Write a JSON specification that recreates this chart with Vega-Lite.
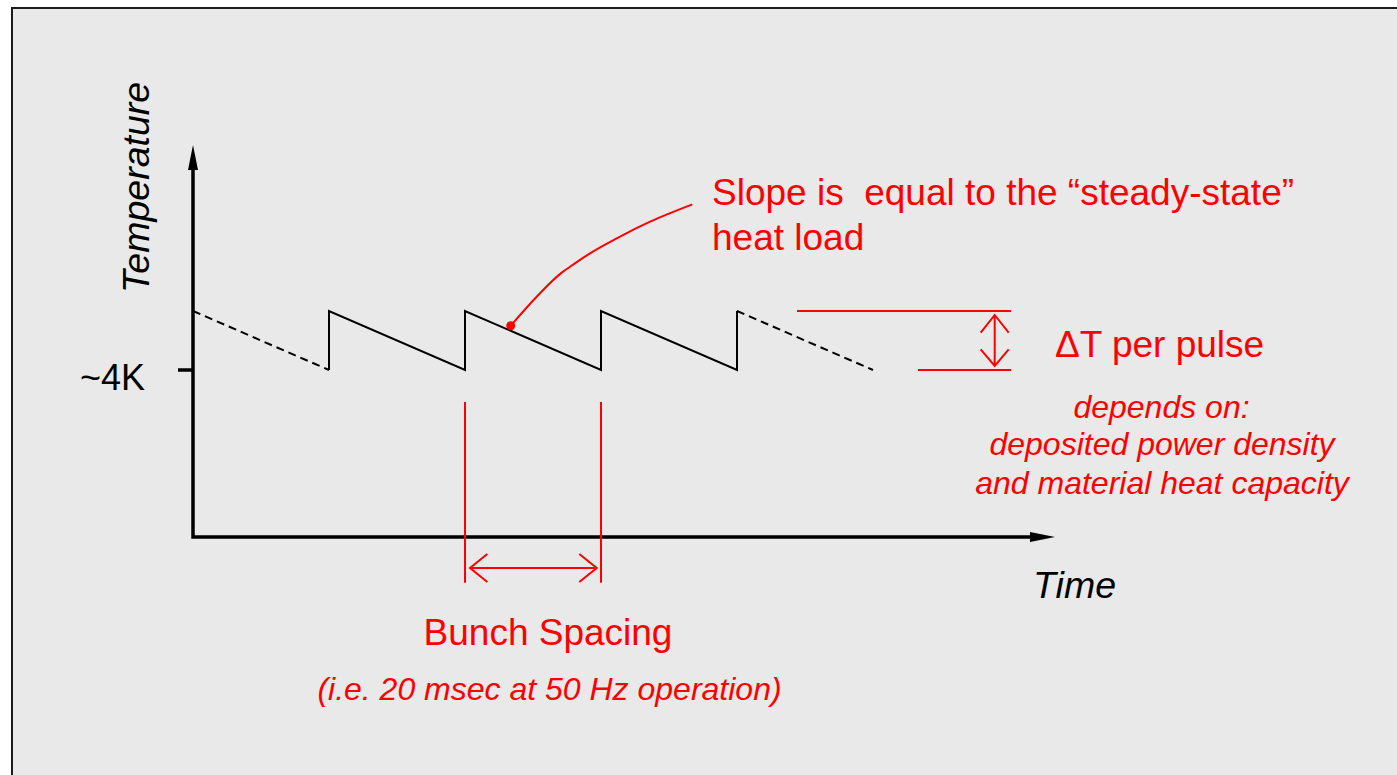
{
  "$schema": "https://vega.github.io/schema/vega-lite/v6.json",
  "width": 1397,
  "height": 775,
  "autosize": {"type": "fit", "contains": "padding"},
  "padding": 0,
  "background": "#ffffff",
  "config": {"view": {"stroke": null}, "font": "Liberation Sans"},
  "datasets": {
    "frame": [{"t": -26.618, "t2": 177.058824, "T": 7.0678, "T2": 0.567797}],
    "border": [
      {"t": -26.7647, "t2": 177.058824, "T": 7.0763, "T2": 7.0593},
      {"t": -26.7647, "t2": -26.4706, "T": 7.0763, "T2": 0.567797}
    ],
    "axes": [
      {"i": 0, "t": 123.088, "T": 2.5847},
      {"i": 1, "t": 0, "T": 2.5847},
      {"i": 2, "t": 0, "T": 5.6949}
    ],
    "tick": [{"t": -2.2059, "t2": 0, "T": 4.0}],
    "arrowUp": [{"t": 0, "T": 5.8008}],
    "arrowRight": [{"t": 124.926, "T": 2.5847}],
    "sawtooth": [
      {"i": 0, "t": 20, "T": 4.0},
      {"i": 1, "t": 20, "T": 4.5},
      {"i": 2, "t": 40, "T": 4.0},
      {"i": 3, "t": 40, "T": 4.5},
      {"i": 4, "t": 60, "T": 4.0},
      {"i": 5, "t": 60, "T": 4.5},
      {"i": 6, "t": 80, "T": 4.0},
      {"i": 7, "t": 80, "T": 4.5}
    ],
    "dashed": [
      {"id": "before", "i": 0, "t": 0, "T": 4.5},
      {"id": "before", "i": 1, "t": 20, "T": 4.0},
      {"id": "after", "i": 0, "t": 80, "T": 4.5},
      {"id": "after", "i": 1, "t": 100, "T": 4.0}
    ],
    "redPaths": [
      {"id": "dtTop", "i": 0, "t": 88.824, "T": 4.5},
      {"id": "dtTop", "i": 1, "t": 120.294, "T": 4.5},
      {"id": "dtBot", "i": 0, "t": 106.618, "T": 4.0},
      {"id": "dtBot", "i": 1, "t": 120.294, "T": 4.0},
      {"id": "dtShaft", "i": 0, "t": 117.897, "T": 4.4661},
      {"id": "dtShaft", "i": 1, "t": 117.897, "T": 4.0339},
      {"id": "dtHeadTop", "i": 0, "t": 115.838, "T": 4.3161},
      {"id": "dtHeadTop", "i": 1, "t": 117.897, "T": 4.4661},
      {"id": "dtHeadTop", "i": 2, "t": 119.956, "T": 4.3161},
      {"id": "dtHeadBot", "i": 0, "t": 115.838, "T": 4.1754},
      {"id": "dtHeadBot", "i": 1, "t": 117.897, "T": 4.0339},
      {"id": "dtHeadBot", "i": 2, "t": 119.956, "T": 4.1754},
      {"id": "bsLeft", "i": 0, "t": 40, "T": 3.7288},
      {"id": "bsLeft", "i": 1, "t": 40, "T": 2.1975},
      {"id": "bsRight", "i": 0, "t": 60, "T": 3.7288},
      {"id": "bsRight", "i": 1, "t": 60, "T": 2.1975},
      {"id": "bsShaft", "i": 0, "t": 40.735, "T": 2.322},
      {"id": "bsShaft", "i": 1, "t": 59.368, "T": 2.322},
      {"id": "bsHeadL", "i": 0, "t": 43.279, "T": 2.4407},
      {"id": "bsHeadL", "i": 1, "t": 40.735, "T": 2.322},
      {"id": "bsHeadL", "i": 2, "t": 43.279, "T": 2.2034},
      {"id": "bsHeadR", "i": 0, "t": 56.809, "T": 2.4407},
      {"id": "bsHeadR", "i": 1, "t": 59.368, "T": 2.322},
      {"id": "bsHeadR", "i": 2, "t": 56.809, "T": 2.2034}
    ],
    "slopeCurve": [
      {"i": 0, "t": 46.72, "T": 4.375},
      {"i": 1, "t": 50.54, "T": 4.621},
      {"i": 2, "t": 54.22, "T": 4.825},
      {"i": 3, "t": 55.44, "T": 4.875},
      {"i": 4, "t": 58.38, "T": 4.989},
      {"i": 5, "t": 62.31, "T": 5.116},
      {"i": 6, "t": 67.21, "T": 5.257},
      {"i": 7, "t": 73.43, "T": 5.404}
    ],
    "slopeDot": [{"t": 46.72, "T": 4.375}],
    "labels": [
      {"group": "slope", "label": "Slope is\u00a0 equal to the “steady-state”", "t": 76.324, "T": 5.3983},
      {"group": "slope", "label": "heat load", "t": 76.324, "T": 5.0169},
      {"group": "slope", "label": "ΔT per pulse", "t": 126.765, "T": 4.1102},
      {"group": "bunch", "label": "Bunch Spacing", "t": 52.206, "T": 1.6695},
      {"group": "note", "label": "(i.e. 20 msec at 50 Hz operation)", "t": 52.426, "T": 1.2034},
      {"group": "note", "label": "depends on:", "t": 142.426, "T": 3.5907},
      {"group": "note", "label": "deposited power density", "t": 142.5, "T": 3.2797},
      {"group": "note", "label": "and material heat capacity", "t": 142.5, "T": 2.9492},
      {"group": "level", "label": "~4K", "t": -7.0588, "T": 3.8305},
      {"group": "ytitle", "label": "Temperature", "t": -6.4706, "T": 5.5466},
      {"group": "xtitle", "label": "Time", "t": 123.529, "T": 2.0678}
    ]
  },
  "encoding": {
    "x": {"field": "t", "type": "quantitative", "scale": {"domain": [-28.382353, 177.058824], "nice": false, "zero": false}, "axis": null},
    "y": {"field": "T", "type": "quantitative", "scale": {"domain": [0.567797, 7.135593], "nice": false, "zero": false}, "axis": null}
  },
  "layer": [
    {
      "data": {"name": "frame"},
      "mark": {"type": "rect", "fill": "#e9e9e9", "strokeWidth": 0},
      "encoding": {"x2": {"field": "t2"}, "y2": {"field": "T2"}}
    },
    {
      "data": {"name": "border"},
      "mark": {"type": "rect", "fill": "#1c1c1c", "strokeWidth": 0},
      "encoding": {"x2": {"field": "t2"}, "y2": {"field": "T2"}}
    },
    {
      "data": {"name": "axes"},
      "mark": {"type": "line", "color": "#000000", "strokeWidth": 3.5, "strokeJoin": "miter"},
      "encoding": {"order": {"field": "i"}}
    },
    {
      "data": {"name": "tick"},
      "mark": {"type": "rule", "color": "#000000", "strokeWidth": 3.5},
      "encoding": {"x2": {"field": "t2"}}
    },
    {
      "data": {"name": "arrowUp"},
      "mark": {"type": "point", "shape": "M0,-1L0.4,1L-0.4,1Z", "filled": true, "size": 625, "color": "#000000", "opacity": 1, "strokeWidth": 0}
    },
    {
      "data": {"name": "arrowRight"},
      "mark": {"type": "point", "shape": "M1,0L-1,0.4L-1,-0.4Z", "filled": true, "size": 625, "color": "#000000", "opacity": 1, "strokeWidth": 0}
    },
    {
      "data": {"name": "sawtooth"},
      "mark": {"type": "line", "color": "#000000", "strokeWidth": 2, "strokeJoin": "miter"},
      "encoding": {"order": {"field": "i"}}
    },
    {
      "data": {"name": "dashed"},
      "mark": {"type": "line", "color": "#000000", "strokeWidth": 2, "strokeDash": [8, 5]},
      "encoding": {"detail": {"field": "id"}, "order": {"field": "i"}}
    },
    {
      "data": {"name": "redPaths"},
      "mark": {"type": "line", "color": "#ff0000", "strokeWidth": 2},
      "encoding": {"detail": {"field": "id"}, "order": {"field": "i"}}
    },
    {
      "data": {"name": "slopeCurve"},
      "mark": {"type": "line", "color": "#ff0000", "strokeWidth": 2, "interpolate": "monotone"},
      "encoding": {"order": {"field": "i"}}
    },
    {
      "data": {"name": "slopeDot"},
      "mark": {"type": "circle", "size": 80, "color": "#ff0000", "opacity": 1}
    },
    {
      "data": {"name": "labels"},
      "transform": [{"filter": "datum.group == 'slope'"}],
      "mark": {"type": "text", "fontSize": 37, "color": "#ff0000", "align": "left", "baseline": "alphabetic"},
      "encoding": {"text": {"field": "label"}}
    },
    {
      "data": {"name": "labels"},
      "transform": [{"filter": "datum.group == 'bunch'"}],
      "mark": {"type": "text", "fontSize": 37, "color": "#ff0000", "align": "center", "baseline": "alphabetic"},
      "encoding": {"text": {"field": "label"}}
    },
    {
      "data": {"name": "labels"},
      "transform": [{"filter": "datum.group == 'note'"}],
      "mark": {"type": "text", "fontSize": 32, "fontStyle": "italic", "color": "#ff0000", "align": "center", "baseline": "alphabetic"},
      "encoding": {"text": {"field": "label"}}
    },
    {
      "data": {"name": "labels"},
      "transform": [{"filter": "datum.group == 'level'"}],
      "mark": {"type": "text", "fontSize": 36, "color": "#000000", "align": "right", "baseline": "alphabetic"},
      "encoding": {"text": {"field": "label"}}
    },
    {
      "data": {"name": "labels"},
      "transform": [{"filter": "datum.group == 'ytitle'"}],
      "mark": {"type": "text", "fontSize": 37.5, "fontStyle": "italic", "color": "#000000", "align": "center", "baseline": "alphabetic", "angle": 270},
      "encoding": {"text": {"field": "label"}}
    },
    {
      "data": {"name": "labels"},
      "transform": [{"filter": "datum.group == 'xtitle'"}],
      "mark": {"type": "text", "fontSize": 37.5, "fontStyle": "italic", "color": "#000000", "align": "left", "baseline": "alphabetic"},
      "encoding": {"text": {"field": "label"}}
    }
  ]
}
